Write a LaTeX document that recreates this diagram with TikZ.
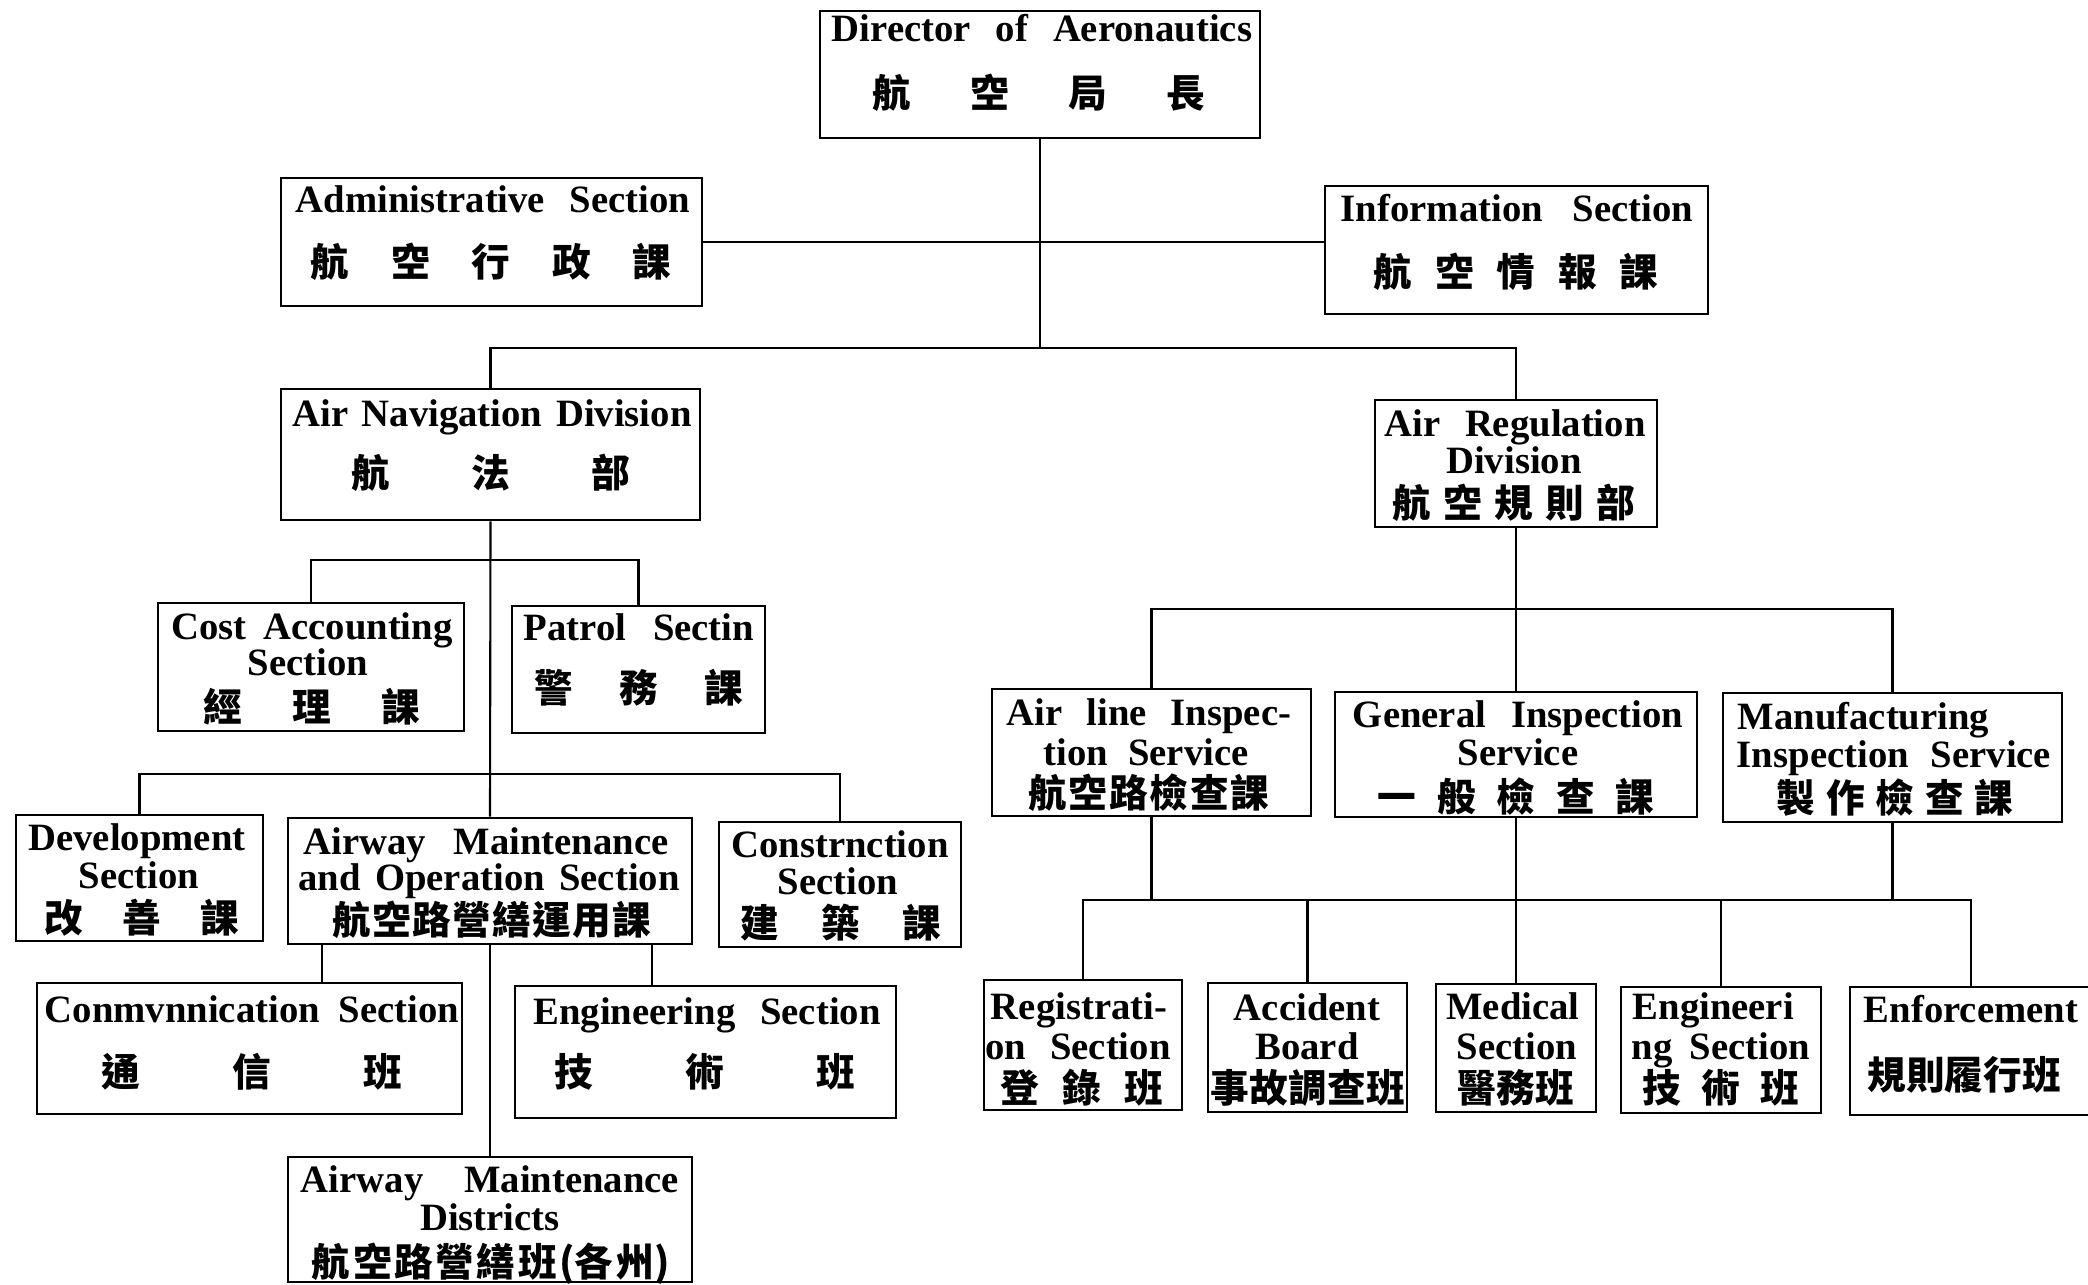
\documentclass[tikz,border=0pt]{standalone}
\usepackage{fontspec}
\setmainfont{Liberation Serif}
\newfontfamily\cjk{Noto Sans CJK TC}
\usetikzlibrary{fit}
\newcommand\spr[2]{\setbox0=\hbox{#2}\ifdim\wd0>#1\relax\box0\else\hbox to #1{#2}\fi}
\tikzset{
  box/.style={draw, line width=0.8pt, inner sep=0pt},
  en/.style={font=\bfseries\fontsize{11}{13}\selectfont, inner sep=0pt, text height=7.3pt, text depth=0pt},
  cj/.style={font=\cjk\bfseries\fontsize{11}{13}\selectfont, inner sep=0pt, text height=9.7pt, text depth=1.3pt},
  link/.style={line width=0.6pt}
}
\begin{document}
\begin{tikzpicture}[x=0.01cm,y=-0.01cm]
\useasboundingbox (0,0) rectangle (2088,1285);
% boxes
\node[box, fit={(820,11) (1260,138)}] (dir) {};
\node[box, fit={(281,178) (702,306)}] (adm) {};
\node[box, fit={(1325,186) (1708,314)}] (info) {};
\node[box, fit={(281,389) (700,520)}] (nav) {};
\node[box, fit={(1375,400) (1657,527)}] (ard) {};
\node[box, fit={(158,603) (464,731)}] (cost) {};
\node[box, fit={(512,606) (765,733)}] (pat) {};
\node[box, fit={(16,815) (263,941)}] (dev) {};
\node[box, fit={(288,818) (692,944)}] (amo) {};
\node[box, fit={(719,822) (961,947)}] (con) {};
\node[box, fit={(37,983) (462,1114)}] (com) {};
\node[box, fit={(515,986) (896,1118)}] (eng) {};
\node[box, fit={(288,1157) (692,1282)}] (amd) {};
\node[box, fit={(992,689) (1311,816)}] (ail) {};
\node[box, fit={(1335,692) (1697,817)}] (gen) {};
\node[box, fit={(1723,693) (2062,822)}] (man) {};
\node[box, fit={(984,980) (1182,1110)}] (reg) {};
\node[box, fit={(1208,983) (1407,1112)}] (acc) {};
\node[box, fit={(1436,984) (1596,1112)}] (med) {};
\node[box, fit={(1621,987) (1821,1113)}] (eng2) {};
\node[box, fit={(1850,987) (2092,1115)}] (enf) {};
% texts
\node[en] (dirE) at (1042,29) {\spr{4.20cm}{Director\hfil of\hfil Aeronautics}};
\node[cj] (dirC) at (1039,93) {\spr{3.32cm}{航\hfil 空\hfil 局\hfil 長}};
\node[en] (admE) at (493,200) {\spr{3.94cm}{Administrative\hfil Section}};
\node[cj] (admC) at (491,262) {\spr{3.60cm}{航\hfil 空\hfil 行\hfil 政\hfil 課}};
\node[en] (infoE) at (1517,209) {\spr{3.52cm}{Information\hfil Section}};
\node[cj] (infoC) at (1516,272) {\spr{2.84cm}{航\hfil 空\hfil 情\hfil 報\hfil 課}};
\node[en] (navE) at (492,414) {\spr{3.99cm}{Air\hfil Navigation\hfil Division}};
\node[cj] (navC) at (491,473) {\spr{2.78cm}{航\hfil 法\hfil 部}};
\node[en] (ardE1) at (1515,424) {\spr{2.61cm}{Air\hfil Regulation}};
\node[en] (ardE2) at (1514,461) {Division};
\node[cj] (ardC) at (1514,503) {\spr{2.42cm}{航\hfil 空\hfil 規\hfil 則\hfil 部}};
\node[en] (costE1) at (312,627) {\spr{2.81cm}{Cost\hfil Accounting}};
\node[en] (costE2) at (308,663) {Section};
\node[cj] (costC) at (312,707) {\spr{2.17cm}{經\hfil 理\hfil 課}};
\node[en] (patE) at (639,628) {\spr{2.30cm}{Patrol\hfil Sectin}};
\node[cj] (patC) at (639,688) {\spr{2.09cm}{警\hfil 務\hfil 課}};
\node[en] (devE1) at (137,838) {Development};
\node[en] (devE2) at (139,876) {Section};
\node[cj] (devC) at (142,918) {\spr{1.94cm}{改\hfil 善\hfil 課}};
\node[en] (amoE1) at (486,842) {\spr{3.65cm}{Airway\hfil Maintenance}};
\node[en] (amoE2) at (489,878) {\spr{3.81cm}{and\hfil Operation\hfil Section}};
\node[cj] (amoC) at (492,920) {\spr{3.19cm}{航\hfil 空\hfil 路\hfil 營\hfil 繕\hfil 運\hfil 用\hfil 課}};
\node[en] (conE1) at (840,845) {Constrnction};
\node[en] (conE2) at (838,882) {Section};
\node[cj] (conC) at (841,923) {\spr{2.00cm}{建\hfil 築\hfil 課}};
\node[en] (comE) at (252,1010) {\spr{4.14cm}{Conmvnnication\hfil Section}};
\node[cj] (comC) at (252,1072) {\spr{3.00cm}{通\hfil 信\hfil 班}};
\node[en] (engE) at (707,1012) {\spr{3.47cm}{Engineering\hfil Section}};
\node[cj] (engC) at (705,1072) {\spr{3.01cm}{技\hfil 術\hfil 班}};
\node[en] (amdE1) at (490,1180) {\spr{3.78cm}{Airway\hfil Maintenance}};
\node[en] (amdE2) at (490,1218) {Districts};
\node[cj] (amdC) at (491,1262) {\spr{3.58cm}{航\hfil 空\hfil 路\hfil 營\hfil 繕\hfil 班\hfil (各\hfil 州)}};
\node[en] (ailE1) at (1149,713) {\spr{2.84cm}{Air\hfil line\hfil Inspec-}};
\node[en] (ailE2) at (1146,753) {\spr{2.05cm}{tion\hfil Service}};
\node[cj] (ailC) at (1149,793) {\spr{2.41cm}{航\hfil 空\hfil 路\hfil 檢\hfil 查\hfil 課}};
\node[en] (genE1) at (1518,715) {\spr{3.30cm}{General\hfil Inspection}};
\node[en] (genE2) at (1518,753) {Service};
\node[cj] (genC) at (1516,797) {\spr{2.76cm}{一\hfil 般\hfil 檢\hfil 查\hfil 課}};
\node[en, anchor=west] (manE1) at (1737,717) {Manufacturing};
\node[en] (manE2) at (1894,755) {\spr{3.14cm}{Inspection\hfil Service}};
\node[cj] (manC) at (1895,798) {\spr{2.36cm}{製\hfil 作\hfil 檢\hfil 查\hfil 課}};
\node[en] (regE1) at (1079,1007) {Registrati-};
\node[en] (regE2) at (1078,1047) {\spr{1.85cm}{on\hfil Section}};
\node[cj] (regC) at (1082,1088) {\spr{1.63cm}{登\hfil 錄\hfil 班}};
\node[en] (accE1) at (1307,1008) {Accident};
\node[en] (accE2) at (1307,1047) {Board};
\node[cj] (accC) at (1308,1088) {\spr{1.95cm}{事\hfil 故\hfil 調\hfil 查\hfil 班}};
\node[en] (medE1) at (1513,1007) {Medical};
\node[en] (medE2) at (1517,1047) {Section};
\node[cj] (medC) at (1516,1088) {\spr{1.16cm}{醫\hfil 務\hfil 班}};
\node[en, anchor=west] (eng2E1) at (1632,1007) {Engineeri};
\node[en] (eng2E2) at (1721,1047) {\spr{1.78cm}{ng\hfil Section}};
\node[cj] (eng2C) at (1721,1088) {\spr{1.56cm}{技\hfil 術\hfil 班}};
\node[en] (enfE) at (1971,1010) {Enforcement};
\node[cj] (enfC) at (1964,1075) {\spr{1.92cm}{規\hfil 則\hfil 履\hfil 行\hfil 班}};
% connector helpers
\coordinate (yB) at (0,348);
\coordinate (yC) at (0,560);
\coordinate (yD) at (0,774);
\coordinate (yE) at (0,609);
\coordinate (yR) at (0,900);
\coordinate (xc) at (322,0);
\coordinate (xe) at (652,0);
% connectors
\draw[link] (dir.south) -- (dir.south |- yB);
\draw[link] (adm.east) -- (info.west |- adm.east);
\draw[link] (nav.north) |- (yB -| ard.north) -- (ard.north);
\draw[link] (nav.south) -- (amo.north);
\draw[link] (cost.north) |- (yC -| pat.north) -- (pat.north);
\draw[link] (dev.north) |- (yD -| con.north) -- (con.north);
\draw[link] (amo.south -| xc) -- (com.north -| xc);
\draw[link] (amo.south -| xe) -- (eng.north -| xe);
\draw[link] (amo.south) -- (amd.north);
\draw[link] (ard.south) -- (gen.north);
\draw[link] (ail.north) |- (yE -| man.north) -- (man.north);
\draw[link] (ail.south) -- (ail.south |- yR);
\draw[link] (man.south) -- (man.south |- yR);
\draw[link] (gen.south) -- (med.north);
\draw[link] (reg.north) |- (yR -| enf.north) -- (enf.north);
\draw[link] (acc.north) -- (acc.north |- yR);
\draw[link] (eng2.north) -- (eng2.north |- yR);
\end{tikzpicture}
\end{document}
